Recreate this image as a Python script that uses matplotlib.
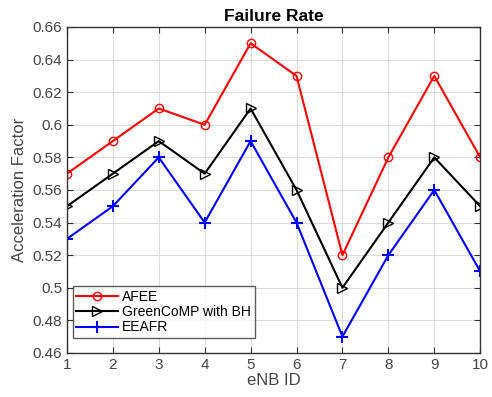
import matplotlib
matplotlib.use("Agg")
import matplotlib.pyplot as plt

x = [1, 2, 3, 4, 5, 6, 7, 8, 9, 10]
afee = [0.57, 0.59, 0.61, 0.60, 0.65, 0.63, 0.52, 0.58, 0.63, 0.58]
green = [0.55, 0.57, 0.59, 0.57, 0.61, 0.56, 0.50, 0.54, 0.58, 0.55]
eeafr = [0.53, 0.55, 0.58, 0.54, 0.59, 0.54, 0.47, 0.52, 0.56, 0.51]
yticks = [0.46, 0.48, 0.5, 0.52, 0.54, 0.56, 0.58, 0.6, 0.62, 0.64, 0.66]
ytick_labels = ["0.46", "0.48", "0.5", "0.52", "0.54", "0.56", "0.58", "0.6", "0.62", "0.64", "0.66"]

plt.rcParams['font.family'] = ['Liberation Sans', 'DejaVu Sans']

fig = plt.figure(figsize=(4.92, 3.97), dpi=100)
ax = fig.add_axes([0.136, 0.111, 0.840, 0.821])

ax.plot(x, afee, color='red', marker='o', markersize=6, markerfacecolor='none', lw=1.5, label='AFEE')
ax.plot(x, green, color='black', marker='>', markersize=7, markerfacecolor='none', lw=1.5, label='GreenCoMP with BH')
ax.plot(x, eeafr, color='blue', marker='+', markersize=8, lw=1.5, mew=1.5, label='EEAFR')

ax.set_xlim(1, 10)
ax.set_ylim(0.46, 0.66)
ax.set_xticks(x)
ax.set_yticks(yticks)
ax.set_yticklabels(ytick_labels)
ax.grid(True, color='#dcdcdc', lw=0.8)
ax.tick_params(direction='in', top=True, right=True, labelsize=11, colors='#333333', labelcolor='#444444', length=4)
for s in ax.spines.values():
    s.set_color('#333333')
    s.set_linewidth(1.0)

ax.set_title('Failure Rate', fontsize=12.5, fontweight='bold', pad=4)
ax.set_xlabel('eNB ID', fontsize=12, color='#444444', labelpad=1)
ax.set_ylabel('Acceleration Factor', fontsize=12, color='#444444', labelpad=4)

leg = ax.legend(loc='lower left', fontsize=10, frameon=True, fancybox=False, edgecolor='#333333',
                borderpad=0.25, labelspacing=0.1, handlelength=3.0, handletextpad=0.3,
                borderaxespad=0, bbox_to_anchor=(0.0145, 0.046))
leg.get_frame().set_linewidth(1.0)

fig.savefig('out.png', dpi=100)
